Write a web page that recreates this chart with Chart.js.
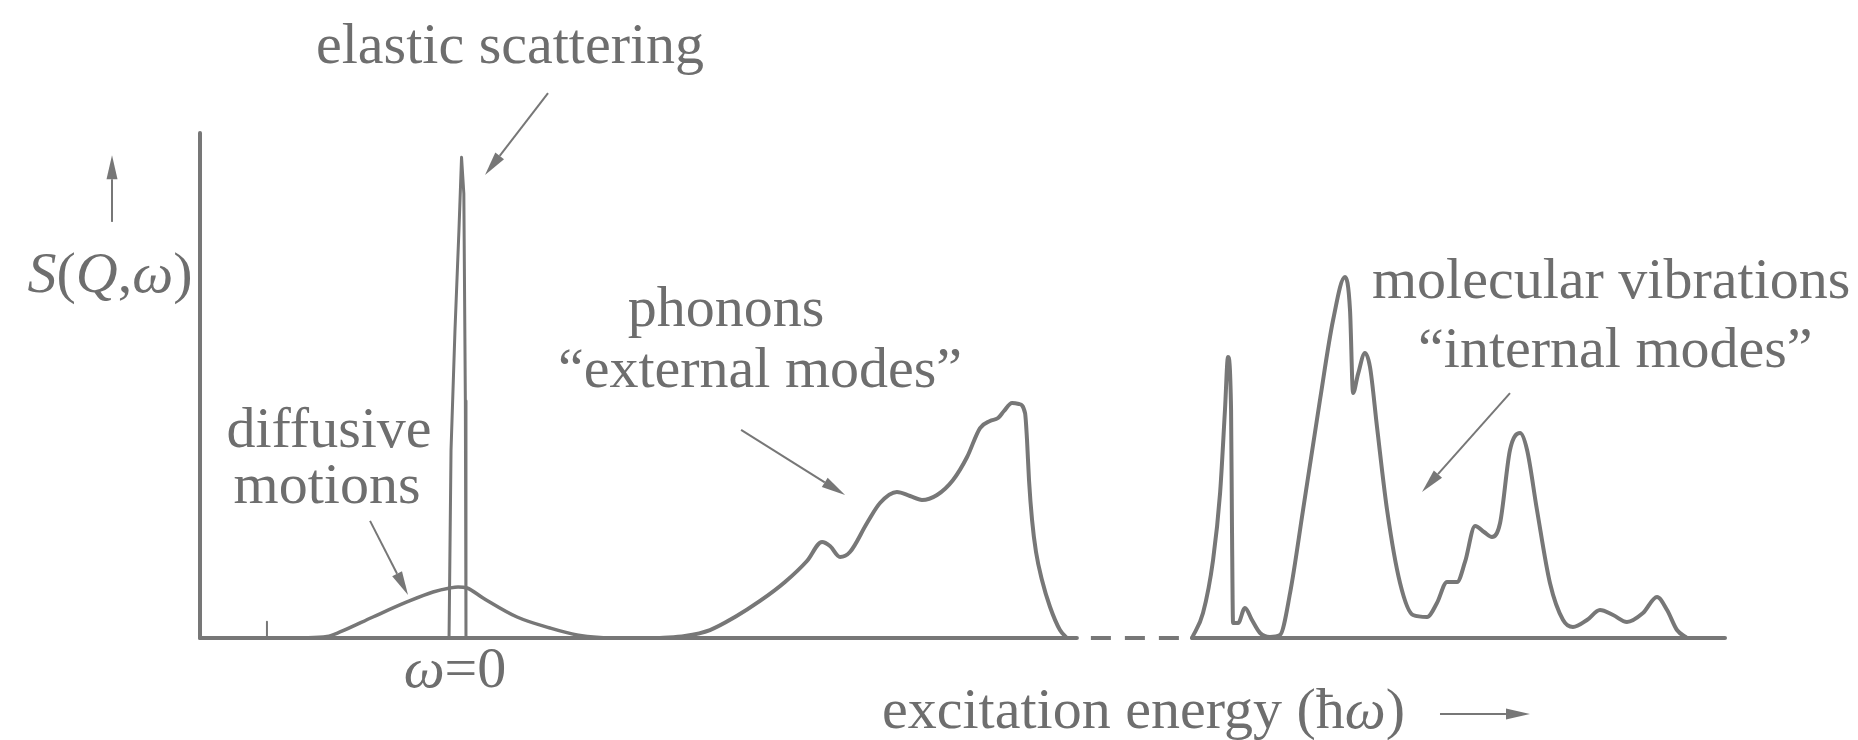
<!DOCTYPE html>
<html>
<head>
<meta charset="utf-8">
<script src="https://cdn.jsdelivr.net/npm/chart.js@4.4.1/dist/chart.umd.min.js"></script>
<style>
  html, body { margin: 0; padding: 0; background: #ffffff; }
  canvas { display: block; }
</style>
</head>
<body>
<canvas id="spectrum" width="1858" height="740"></canvas>
<script>
// Schematic neutron spectrum S(Q, ω) versus excitation energy.
// Energy in arbitrary units (ordinate at 0, end of the energy axis at 100),
// intensity in arbitrary units (0 on the energy axis, 100 at the top of the ordinate).

// Quasi-elastic (diffusive) broadening centred on ω = 0
const diffusiveX = [6.56, 8.33, 9.18, 11.34, 13.57, 15.28, 16.39, 16.92, 17.51, 18.56, 20.79, 22.95, 24.72, 26.23, 27.9];
const diffusiveY = [0, 0.3, 1.19, 4.16, 7.13, 9.11, 9.90, 10.10, 9.90, 7.92, 4.16, 1.98, 0.59, 0.1, 0];

// Elastic line at ω = 0
const elasticX = [16.33, 16.46, 16.72, 16.98, 17.15, 17.30, 17.40, 17.44];
const elasticY = [0, 37.2, 61.0, 80.8, 95.2, 88.0, 47.0, 0];

// Small mark on the energy axis left of the elastic line
const tickX = [4.39, 4.39];
const tickY = [0, 3.2];

// Lattice phonons ("external modes")
const phononX = [30.16, 31.80, 33.44, 35.08, 36.72, 38.36, 39.80, 40.79, 41.31, 41.97, 42.62, 43.74, 44.59,
                 45.70, 46.56, 47.34, 48.33, 49.38, 50.30, 51.15, 51.80, 52.33, 52.72, 53.25, 53.70,
                 54.10, 54.23, 54.36, 54.56, 54.82, 55.21, 55.74, 56.39, 56.85];
const phononY = [0, 0.40, 1.58, 4.16, 7.33, 11.09, 15.25, 19.01, 18.22, 16.04, 17.03, 22.77, 26.73,
                 28.91, 28.12, 27.33, 28.32, 31.29, 35.84, 41.58, 42.97, 43.56, 44.95, 46.53, 46.34,
                 44.55, 39.21, 31.29, 23.37, 17.03, 11.49, 6.14, 1.58, 0];

// Molecular vibrations ("internal modes")
const molecularX = [65.05, 65.77, 66.43, 66.89, 67.21, 67.41, 67.61, 67.67, 67.74, 68.07, 68.52, 68.98,
                    69.51, 70.16, 70.82, 71.48, 72.33, 73.44, 74.30, 75.08, 75.41, 75.61, 75.93, 76.39,
                    76.72, 77.18, 77.84, 78.69, 79.54, 80.46, 81.11, 81.77, 82.43, 82.95, 83.61, 84.20,
                    84.72, 85.25, 85.90, 86.56, 87.02, 87.67, 88.52, 89.38, 90.03, 90.95, 91.80, 92.66,
                    93.57, 94.62, 95.54, 96.20, 96.85, 97.51];
const molecularY = [0, 4.95, 15.45, 28.71, 45.15, 55.64, 45.15, 21.98, 2.97, 2.97, 5.94, 3.56,
                    0.99, 0.20, 0.59, 8.91, 25.35, 47.13, 62.97, 71.49, 64.95, 48.5, 52.2, 56.44,
                    53.66, 41.78, 25.35, 10.89, 4.55, 4.16, 6.93, 11.09, 11.09, 15.05, 22.18, 20.99,
                    20.00, 22.77, 37.23, 40.59, 37.23, 25.35, 10.89, 3.56, 2.18, 3.56, 5.54, 4.55,
                    3.17, 4.95, 8.12, 5.54, 1.58, 0];

// Energy axis: solid, broken (dashed) between the phonon and vibration bands, solid again
const axisStart = 0;
const axisBreakStart = 57.5;
const axisBreakEnd = 65.05;
const axisEnd = 100;
const ordinateTop = 100;

const INK = '#777777';
const TEXT = '#6e6e6e';
const SERIF = '"Liberation Serif", "DejaVu Serif", "Times New Roman", serif';
const FONT_PX = 58;

function points(xs, ys) { return xs.map((x, i) => ({ x: x, y: ys[i] })); }

function curve(xs, ys, width, smooth) {
  return {
    data: points(xs, ys),
    showLine: true,
    borderColor: INK,
    borderWidth: width,
    pointRadius: 0,
    fill: false,
    tension: 0,
    cubicInterpolationMode: smooth ? 'monotone' : 'default',
    borderJoinStyle: 'round',
    borderCapStyle: 'round'
  };
}

const ordinate = curve([0, 0], [0, ordinateTop], 4, false);
const axisLeft = curve([axisStart, axisBreakStart], [0, 0], 4, false);
const axisGap = Object.assign(curve([axisBreakStart, axisBreakEnd], [0, 0], 4, false),
  { borderDash: [20, 14], borderDashOffset: 20, borderCapStyle: 'butt' });
const axisRight = curve([axisBreakEnd, axisEnd], [0, 0], 4, false);

// Text labels; each label is a list of runs, italic runs marked with 'i'
const labels = [
  { runs: [['elastic scattering', 'n']], x: 20.33, y: 113.9, align: 'center' },
  { runs: [['S', 'i'], ['(', 'n'], ['Q', 'i'], [',', 'n'], ['\u03C9', 'i'], [')', 'n']], x: -5.9, y: 68.6, align: 'center' },
  { runs: [['diffusive', 'n']], x: 8.46, y: 37.8, align: 'center' },
  { runs: [['motions', 'n']], x: 8.33, y: 26.7, align: 'center' },
  { runs: [['\u03C9', 'i'], ['=0', 'n']], x: 16.72, y: -9.7, align: 'center' },
  { runs: [['phonons', 'n']], x: 34.5, y: 61.8, align: 'center' },
  { runs: [['\u201Cexternal modes\u201D', 'n']], x: 36.72, y: 49.7, align: 'center' },
  { runs: [['molecular vibrations', 'n']], x: 76.85, y: 67.3, align: 'left' },
  { runs: [['\u201Cinternal modes\u201D', 'n']], x: 79.87, y: 53.7, align: 'left' },
  { runs: [['excitation energy (\u0127', 'n'], ['\u03C9', 'i'], [')', 'n']], x: 44.72, y: -17.8, align: 'left' }
];

// Pointer arrows: [fromX, fromY, toX, toY]
const arrows = [
  [22.82, 107.9, 18.69, 91.7],    // elastic scattering
  [-5.77, 82.4, -5.77, 95.6],     // S(Q, ω) increases upward
  [11.15, 23.2, 13.64, 8.5],      // diffusive motions
  [35.48, 41.2, 42.30, 28.3],     // phonons
  [85.90, 48.5, 80.13, 28.9],     // internal modes
  [81.31, -15.05, 87.21, -15.05]  // energy increases to the right
];

function runFont(style) {
  return (style === 'i' ? 'italic ' : '') + FONT_PX + 'px ' + SERIF;
}

const annotate = {
  id: 'annotate',
  afterDatasetsDraw(chart) {
    const ctx = chart.ctx;
    const sx = chart.scales.x, sy = chart.scales.y;
    ctx.save();
    ctx.fillStyle = TEXT;
    ctx.textBaseline = 'alphabetic';
    ctx.textAlign = 'left';
    labels.forEach(function (lab) {
      let total = 0;
      const widths = lab.runs.map(function (r) {
        ctx.font = runFont(r[1]);
        const w = ctx.measureText(r[0]).width;
        total += w;
        return w;
      });
      let px = sx.getPixelForValue(lab.x);
      const py = sy.getPixelForValue(lab.y);
      if (lab.align === 'center') px -= total / 2;
      else if (lab.align === 'right') px -= total;
      lab.runs.forEach(function (r, i) {
        ctx.font = runFont(r[1]);
        ctx.fillText(r[0], px, py);
        px += widths[i];
      });
    });

    ctx.strokeStyle = INK;
    ctx.fillStyle = INK;
    ctx.lineWidth = 2;
    arrows.forEach(function (a) {
      const x0 = sx.getPixelForValue(a[0]), y0 = sy.getPixelForValue(a[1]);
      const x1 = sx.getPixelForValue(a[2]), y1 = sy.getPixelForValue(a[3]);
      const ang = Math.atan2(y1 - y0, x1 - x0);
      const len = 24, half = 5.5;
      const bx = x1 - len * Math.cos(ang), by = y1 - len * Math.sin(ang);
      ctx.beginPath();
      ctx.moveTo(x0, y0);
      ctx.lineTo(bx, by);
      ctx.stroke();
      ctx.beginPath();
      ctx.moveTo(x1, y1);
      ctx.lineTo(bx + half * Math.sin(ang), by - half * Math.cos(ang));
      ctx.lineTo(bx - half * Math.sin(ang), by + half * Math.cos(ang));
      ctx.closePath();
      ctx.fill();
    });
    ctx.restore();
  }
};

new Chart(document.getElementById('spectrum'), {
  type: 'scatter',
  data: {
    datasets: [
      ordinate, axisLeft, axisGap, axisRight,
      curve(tickX, tickY, 2, false),
      curve(diffusiveX, diffusiveY, 3.5, true),
      curve(elasticX, elasticY, 3, false),
      curve(phononX, phononY, 4, true),
      curve(molecularX, molecularY, 4, true)
    ]
  },
  options: {
    responsive: false,
    animation: false,
    devicePixelRatio: 1,
    layout: { padding: 0 },
    plugins: { legend: { display: false }, tooltip: { enabled: false } },
    scales: {
      x: { type: 'linear', display: false, min: -13.115, max: 108.72 },
      y: { type: 'linear', display: false, min: -20.2, max: 126.34 }
    }
  },
  plugins: [annotate]
});
</script>
</body>
</html>
